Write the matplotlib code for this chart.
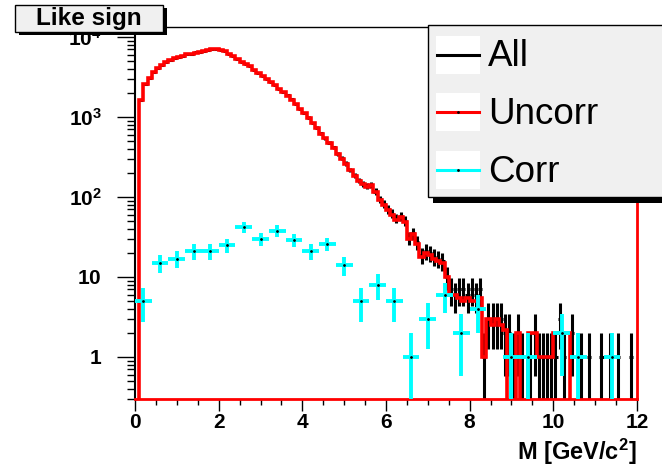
"""
Like sign pair mass spectrum: all, uncorrelated and correlated pairs
"""

import numpy as np
import matplotlib
matplotlib.use("Agg")
import matplotlib.pyplot as plt
from matplotlib.patches import Rectangle
from matplotlib.lines import Line2D
from matplotlib.ticker import FixedLocator, MultipleLocator, LogLocator, FuncFormatter, NullFormatter

# 0.1 GeV bins from 0 to 12 GeV
uncorr_counts = [
    0, 1650, 2600, 3100, 3600, 4100, 4500, 4800, 5100, 5400,
    5650, 5850, 6050, 6200, 6400, 6500, 6700, 6900, 7100, 7000,
    6800, 6600, 6200, 5800, 5300, 4900, 4600, 4300, 3900, 3500,
    3250, 3000, 2750, 2500, 2250, 2050, 1850, 1650, 1450, 1250,
    1120, 980, 840, 730, 620, 540, 470, 410, 340, 300,
    260, 215, 185, 160, 145, 135, 140, 115, 92, 80,
    68, 60, 52, 56, 48, 30, 34, 26, 18, 20,
    19, 17, 16, 15, 10, 6, 6, 5.5, 5, 5.5,
    5, 5, 5.5, 1, 3, 2.5, 3, 2.5, 2.2, 0,
    0, 2, 0, 0, 2, 2, 1, 1, 1, 1,
    2, 2, 2, 2, 0, 0, 0, 0, 0, 0,
    0, 0, 0, 0, 0, 0, 0, 0, 0, 0,
]

all_counts = [
    0, 1652, 2603, 3104, 3605, 4104, 4505, 4805, 5106, 5405,
    5656, 5856, 6056, 6205, 6406, 6506, 6706, 6905, 7105, 7006,
    6806, 6606, 6206, 5810, 5310, 4910, 4608, 4308, 3908, 3508,
    3258, 3008, 2760, 2510, 2260, 2060, 1858, 1658, 1458, 1258,
    1125, 985, 845, 735, 625, 546, 476, 416, 344, 304,
    263, 218, 188, 162, 146, 137, 142, 117, 94, 82,
    70, 62, 54, 58, 50, 31, 35, 27, 19, 21,
    20, 18, 17, 16, 10, 7, 6, 7, 7, 6,
    7, 6, 7, 1, 3, 3, 3, 3, 2, 2,
    1, 2, 1, 0, 1, 2, 1, 1, 1, 1,
    1, 3, 1, 0, 2, 0, 1, 0, 1, 0,
    0, 1, 0, 1, 0, 1, 0, 0, 1, 0,
]

# 0.4 GeV bins from 0 to 12 GeV
corr_counts = [5, 15, 17, 21, 21, 25, 42, 30, 38, 29,
               21, 26, 14, 5, 8, 5, 1, 3, 6, 2,
               4, 0, 1, 1, 0, 2, 1, 0, 1, 0]

mass_range = (0, 12)
y_range = (0.2985, 13335)
y_labels = {1: "$1$", 10: "$10$", 100: "$10^{2}$", 1000: "$10^{3}$", 10000: "$10^{4}$"}
legend_names = ["All", "Uncorr", "Corr"]

plt.rcParams["font.family"] = ["Liberation Sans", "DejaVu Sans"]
plt.rcParams["font.weight"] = "bold"
plt.rcParams["mathtext.fontset"] = "custom"
plt.rcParams["mathtext.rm"] = "Liberation Sans:bold"
plt.rcParams["mathtext.bf"] = "Liberation Sans:bold"
plt.rcParams["mathtext.it"] = "Liberation Sans:bold"

W, H = 662, 469
fig = plt.figure(figsize=(W / 100, H / 100), dpi=100)
ax = fig.add_axes([135 / W, 1 - 399 / H, (637 - 135) / W, (399 - 27) / H])
ax.set_yscale("log")

uncorr = np.array(uncorr_counts, dtype=float)
all_h = np.array(all_counts, dtype=float)
corr = np.array(corr_counts, dtype=float)

fine_edges = np.linspace(mass_range[0], mass_range[1], len(uncorr) + 1)
fine_centers = 0.5 * (fine_edges[:-1] + fine_edges[1:])
coarse_edges = np.linspace(mass_range[0], mass_range[1], len(corr) + 1)
coarse_centers = 0.5 * (coarse_edges[:-1] + coarse_edges[1:])


def errors(n):
    err = np.sqrt(n)
    low = np.minimum(err, n - 1e-3)
    return [low, err]


# All: error bars only
m = all_h > 0
ax.errorbar(fine_centers[m], all_h[m], xerr=0.05, yerr=errors(all_h[m]),
            fmt="none", ecolor="black", elinewidth=2.2, capsize=0, zorder=2)

# Uncorr: histogram line
ax.stairs(np.where(uncorr > 0, uncorr, 1e-2), fine_edges, baseline=None,
          color="red", lw=2.6, zorder=3)

# Corr: crosses
m = corr > 0
ax.errorbar(coarse_centers[m], corr[m], xerr=0.2, yerr=errors(corr[m]),
            fmt="none", ecolor="#00ffff", elinewidth=2.8, capsize=0, zorder=4)
ax.plot(coarse_centers[m], corr[m], ".", color="black", ms=2, zorder=5)

ax.set_xlim(*mass_range)
ax.set_ylim(*y_range)

ax.xaxis.set_major_locator(MultipleLocator(2))
ax.xaxis.set_minor_locator(MultipleLocator(0.5))
ax.yaxis.set_major_locator(FixedLocator(list(y_labels.keys())))
ax.yaxis.set_major_formatter(FuncFormatter(lambda v, p: y_labels.get(int(round(v)), "")))
ax.yaxis.set_minor_locator(LogLocator(base=10, subs=range(2, 10)))
ax.yaxis.set_minor_formatter(NullFormatter())

ax.tick_params(axis="x", which="major", direction="out", length=8.5, width=1,
               labelsize=15, pad=1.5)
ax.tick_params(axis="x", which="minor", direction="out", length=4.5, width=1)
ax.tick_params(axis="y", which="major", direction="out", length=13, width=1,
               labelsize=15, pad=11)
ax.tick_params(axis="y", which="minor", direction="out", length=6, width=1)
ax.tick_params(top=False, right=False, which="both")

ax.spines["left"].set_linewidth(1.5)
ax.spines["top"].set_linewidth(1)
ax.spines["bottom"].set_color("red")
ax.spines["bottom"].set_linewidth(2)
ax.spines["right"].set_color("red")
ax.spines["right"].set_linewidth(2)
# the upper part of the right edge sits under the legend box anyway
ax.spines["right"].set_bounds(y_range[0], 1000)

fig.text(637 / W, 1 - 452 / H, "M [GeV/c$^{2}$]", ha="right", va="center", fontsize=17)


def px_rect(x0, y0, x1, y1, **kw):
    return Rectangle((x0 / W, 1 - y1 / H), (x1 - x0) / W, (y1 - y0) / H,
                     transform=fig.transFigure, **kw)


# title box
fig.add_artist(px_rect(19, 8, 167, 35, facecolor="black", edgecolor="none", zorder=5))
fig.add_artist(px_rect(15, 5, 163, 32, facecolor="#f0f0f0", edgecolor="black", lw=1, zorder=6))
fig.text(89 / W, 1 - 18.5 / H, "Like sign", ha="center", va="center", fontsize=17.5, zorder=7)

# legend box
fig.add_artist(px_rect(433, 31, 700, 203, facecolor="black", edgecolor="none", zorder=5))
fig.add_artist(px_rect(428, 25, 700, 197, facecolor="#f0f0f0", edgecolor="black", lw=1, zorder=6))
legend_colors = ["black", "red", "#00ffff"]
legend_rows = [55, 112, 170]
for name, color, yrow in zip(legend_names, legend_colors, legend_rows):
    fig.add_artist(px_rect(436, yrow - 19, 480, yrow + 19, facecolor="white",
                           edgecolor="none", zorder=7))
    fig.add_artist(Line2D([437 / W, 479 / W], [1 - yrow / H, 1 - yrow / H],
                          transform=fig.transFigure, color=color, lw=2.2, zorder=8))
    if name != "All":
        fig.add_artist(Line2D([458 / W], [1 - yrow / H], transform=fig.transFigure,
                              marker=".", ms=2, color="black", zorder=9))
    fig.text(488 / W, 1 - (yrow + 2) / H, name, ha="left", va="center",
             fontsize=26.5, fontweight="normal", zorder=9)

fig.savefig("out.png", dpi=100)
